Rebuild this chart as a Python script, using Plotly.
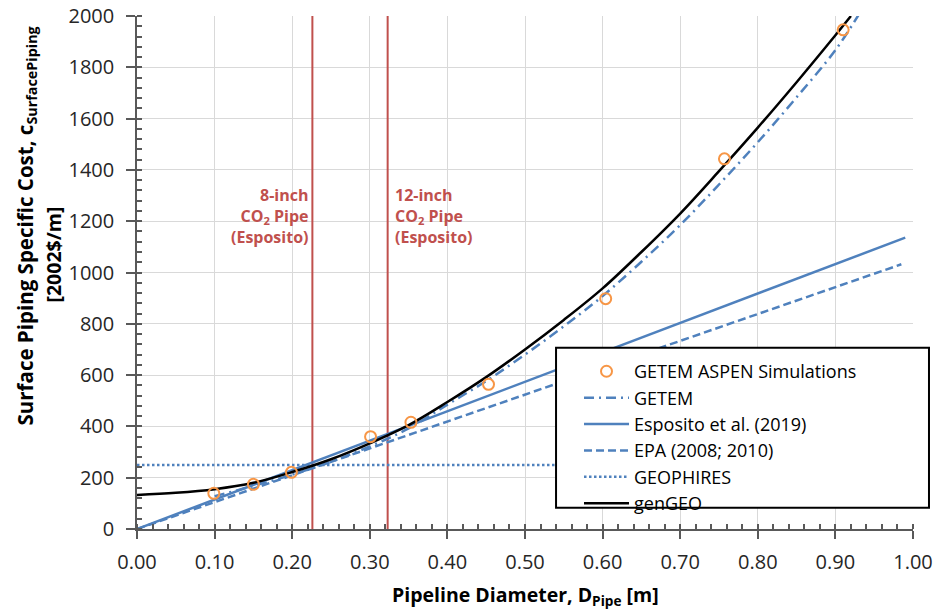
import plotly.graph_objects as go

# ---- data -------------------------------------------------------------
# GETEM ASPEN simulation points
sim_d = [0.099, 0.150, 0.199, 0.301, 0.353, 0.453, 0.604, 0.757, 0.910]
sim_cost = [139, 174, 221, 360, 416, 564, 898, 1443, 1946]

# genGEO correlation
gengeo_d = [0.00, 0.05, 0.10, 0.15, 0.20, 0.25, 0.30, 0.35, 0.40, 0.45,
            0.50, 0.55, 0.60, 0.65, 0.70, 0.75, 0.80, 0.85, 0.90, 0.92]
gengeo_cost = [133, 141, 155, 180, 222, 272, 334, 405, 495, 592,
               700, 815, 938, 1080, 1230, 1395, 1565, 1742, 1925, 2000]

# GETEM correlation
getem_d = [0.10, 0.15, 0.20, 0.25, 0.30, 0.35, 0.40, 0.45, 0.50, 0.55,
           0.60, 0.65, 0.70, 0.75, 0.80, 0.85, 0.90, 0.93]
getem_cost = [128, 168, 212, 262, 322, 392, 485, 577, 680, 790,
              908, 1042, 1185, 1343, 1508, 1683, 1867, 2005]

# Esposito et al. (2019) linear correlation
esposito_d = [0.00, 0.99]
esposito_cost = [0, 1136]

# EPA (2008; 2010) linear correlation
epa_d = [0.00, 0.985]
epa_cost = [0, 1032]

# GEOPHIRES constant cost
geophires_d = [0.00, 1.00]
geophires_cost = [250, 250]

# Esposito CO2 pipe sizes
pipe_labels = ["8-inch<br>CO<sub>2</sub> Pipe<br>(Esposito)",
               "12-inch<br>CO<sub>2</sub> Pipe<br>(Esposito)"]
pipe_d = [0.226, 0.323]

x_ticks = [0.0, 0.1, 0.2, 0.3, 0.4, 0.5, 0.6, 0.7, 0.8, 0.9, 1.0]
y_ticks = [0, 200, 400, 600, 800, 1000, 1200, 1400, 1600, 1800, 2000]

# ---- styling ----------------------------------------------------------
FONT = "Open Sans"
BLUE = "#4f81bd"
RED = "#c0504d"
ORANGE = "#f79646"
GRID = "#d9d9d9"
AXIS = "#595959"

fig = go.Figure()

for d in pipe_d:
    fig.add_trace(go.Scatter(x=[d, d], y=[y_ticks[0], y_ticks[-1]], mode="lines",
                             line=dict(color=RED, width=2), showlegend=False,
                             hoverinfo="skip"))

fig.add_trace(go.Scatter(x=geophires_d, y=geophires_cost, mode="lines",
                         name="GEOPHIRES", legendrank=5,
                         line=dict(color=BLUE, width=2.5, dash="2.5px,2.5px")))
fig.add_trace(go.Scatter(x=epa_d, y=epa_cost, mode="lines",
                         name="EPA (2008; 2010)", legendrank=4,
                         line=dict(color=BLUE, width=2.5, dash="8px,4px")))
fig.add_trace(go.Scatter(x=esposito_d, y=esposito_cost, mode="lines",
                         name="Esposito et al. (2019)", legendrank=3,
                         line=dict(color=BLUE, width=2.5)))
fig.add_trace(go.Scatter(x=getem_d, y=getem_cost, mode="lines",
                         name="GETEM", legendrank=2, line_shape="spline",
                         line=dict(color=BLUE, width=2.5, dash="10px,5px,2px,5px")))
fig.add_trace(go.Scatter(x=gengeo_d, y=gengeo_cost, mode="lines",
                         name="genGEO", legendrank=6, line_shape="spline",
                         line=dict(color="black", width=2.5)))
fig.add_trace(go.Scatter(x=sim_d, y=sim_cost, mode="markers",
                         name="GETEM ASPEN Simulations", legendrank=1,
                         marker=dict(symbol="circle-open", size=11, color=ORANGE,
                                     line=dict(width=2, color=ORANGE))))

# pipe-size labels beside the vertical lines
for i, (d, txt) in enumerate(zip(pipe_d, pipe_labels)):
    fig.add_annotation(x=d, y=1221, text=txt, showarrow=False,
                       xanchor="right" if i == 0 else "left",
                       yanchor="middle",
                       align="right" if i == 0 else "left",
                       xshift=-2 if i == 0 else 5,
                       font=dict(family=FONT, size=16, color=RED, weight="bold"))

# axis titles
fig.add_annotation(xref="paper", yref="paper", x=0.5, y=0, yshift=-66,
                   xanchor="center", yanchor="middle",
                   text="Pipeline Diameter, D<sub>Pipe</sub> [m]", showarrow=False,
                   font=dict(family=FONT, size=19.5, color="black", weight="bold"))
fig.add_annotation(xref="paper", yref="paper", x=0, y=0.5, xshift=-112, yshift=46,
                   xanchor="center", yanchor="middle",
                   text="Surface Piping Specific Cost, c<sub>SurfacePiping</sub>",
                   textangle=-90, showarrow=False,
                   font=dict(family=FONT, size=20.5, color="black", weight="bold"))
fig.add_annotation(xref="paper", yref="paper", x=0, y=0.5, xshift=-84, yshift=18,
                   xanchor="center", yanchor="middle",
                   text="[2002$/m]", textangle=-90, showarrow=False,
                   font=dict(family=FONT, size=19.5, color="black", weight="bold"))

# legend frame (white panel drawn over the curves, legend entries sit on it)
fig.add_shape(type="rect", xref="paper", yref="paper",
              x0=0.54, x1=1.0206, y0=0.0415, y1=0.3532,
              line=dict(color="black", width=2), fillcolor="white", layer="above")

fig.update_xaxes(range=[0, 1.0], tickvals=x_ticks, tickformat=".2f",
                 automargin=False,
                 showgrid=True, gridcolor=GRID, gridwidth=1,
                 showline=True, linecolor=AXIS, linewidth=1.5,
                 ticks="outside", ticklen=8, tickcolor=AXIS, tickwidth=1.5,
                 ticklabelstandoff=6,
                 minor=dict(dtick=0.02, ticks="inside", ticklen=5,
                            tickcolor=AXIS, showgrid=False),
                 tickfont=dict(family=FONT, size=20, color="#262626"),
                 zeroline=False)
fig.update_yaxes(range=[0, 2000], tickvals=y_ticks,
                 automargin=False,
                 showgrid=True, gridcolor=GRID, gridwidth=1,
                 showline=True, linecolor=AXIS, linewidth=1.5,
                 ticks="outside", ticklen=9, tickcolor=AXIS, tickwidth=1.5,
                 ticklabelstandoff=8,
                 minor=dict(dtick=40, ticks="inside", ticklen=5,
                            tickcolor=AXIS, showgrid=False),
                 tickfont=dict(family=FONT, size=20, color="#262626"),
                 zeroline=False)

fig.update_layout(
    width=937, height=609,
    margin=dict(l=137, r=24, t=16, b=80, autoexpand=False),
    plot_bgcolor="white", paper_bgcolor="white",
    showlegend=True,
    legend=dict(x=0.5696, y=0.343, xanchor="left", yanchor="top",
                bgcolor="rgba(0,0,0,0)", borderwidth=0,
                itemwidth=45, tracegroupgap=0,
                font=dict(family=FONT, size=18, color="black")),
)

fig.write_html("out.html")
